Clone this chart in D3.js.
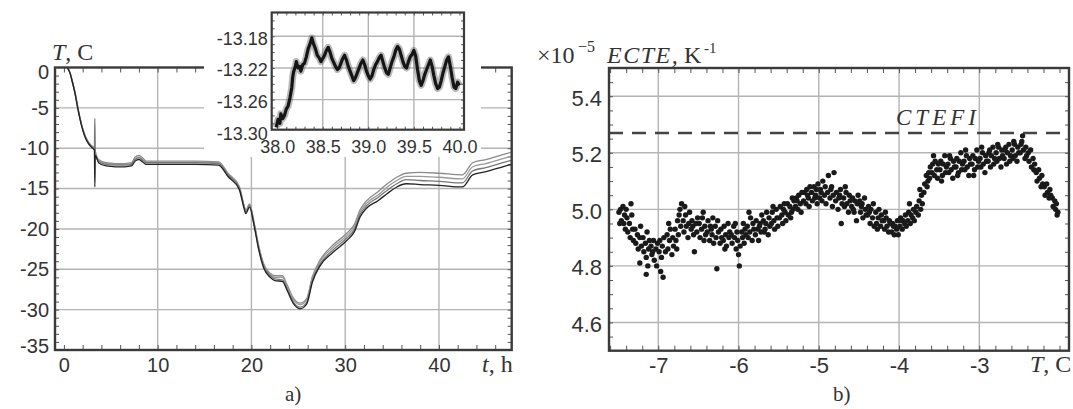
<!DOCTYPE html>
<html><head><meta charset="utf-8">
<script src="https://cdn.jsdelivr.net/npm/d3@7"></script>
<style>body{margin:0;background:#fff}svg{display:block}</style>
</head><body>
<svg id="chart" width="1073" height="409"></svg>
<script>
// ---------- DATA ----------
// Panel a: temperature histories
const timeH = [0.36,0.65,0.9,1.18,1.5,1.9,2.25,2.6,2.95,3.25,3.3,3.35,3.7,4.5,5.5,6.5,7.2,7.6,8.0,8.4,8.8,10,12,14,16.5,17.5,18.7,19.2,19.4,19.8,20.3,20.8,21.3,22.0,22.5,23.3,23.8,24.5,25.2,25.9,26.5,27.3,28.7,30.2,31.0,31.6,32.3,33.5,34.5,35.5,36.5,38,40,42.5,43.6,45,46.8,47.7];
const tempS0 = [0,-0.7,-1.8,-3.2,-5.2,-7.3,-8.6,-9.4,-9.9,-10.2,-14.8,-10.9,-11.8,-12.2,-12.3,-12.3,-12.2,-11.6,-11.4,-11.7,-12.0,-12.0,-12.0,-12.0,-12.1,-13.5,-15.1,-17.4,-18.1,-17.3,-19.7,-22.7,-24.8,-26.0,-26.4,-26.5,-27.6,-29.3,-29.9,-29.3,-26.6,-24.6,-22.9,-21.4,-20.3,-18.5,-17.4,-16.5,-15.6,-14.8,-14.4,-14.5,-14.6,-14.8,-13.3,-12.9,-12.3,-12.0];
const tempS1 = [0,-0.7,-1.8,-3.1,-5.1,-7.2,-8.5,-9.3,-9.8,-10.1,-6.3,-10.7,-11.6,-12.0,-12.1,-12.1,-12.0,-11.4,-11.2,-11.5,-11.8,-11.8,-11.8,-11.8,-11.9,-13.3,-14.9,-17.2,-17.9,-17.1,-19.5,-22.5,-24.6,-25.8,-26.2,-26.3,-27.4,-29.1,-29.7,-29.1,-26.4,-24.4,-22.6,-21.1,-20.0,-18.2,-17.1,-16.1,-15.2,-14.4,-13.9,-14.0,-14.1,-14.3,-12.8,-12.4,-11.8,-11.5];
const tempS2 = [0,-0.6,-1.7,-3.1,-5.1,-7.2,-8.5,-9.3,-9.8,-10.1,-10.1,-10.5,-11.5,-11.9,-12.0,-12.0,-11.9,-11.3,-11.1,-11.4,-11.7,-11.7,-11.7,-11.7,-11.8,-13.2,-14.8,-17.1,-17.8,-17.0,-19.4,-22.3,-24.4,-25.6,-26.0,-26.0,-27.1,-28.8,-29.4,-28.8,-26.1,-24.1,-22.3,-20.8,-19.7,-17.9,-16.8,-15.8,-14.8,-14.0,-13.5,-13.5,-13.6,-13.8,-12.3,-11.9,-11.3,-11.0];
const tempS3 = [0,-0.6,-1.7,-3.0,-5.0,-7.1,-8.4,-9.2,-9.7,-10.0,-10.1,-10.4,-11.4,-11.8,-11.9,-11.9,-11.8,-11.1,-10.9,-11.2,-11.6,-11.6,-11.6,-11.6,-11.7,-13.1,-14.7,-17.0,-17.7,-16.9,-19.3,-22.2,-24.3,-25.5,-25.8,-25.8,-26.9,-28.6,-29.2,-28.6,-25.9,-23.9,-22.0,-20.5,-19.4,-17.6,-16.5,-15.4,-14.4,-13.6,-13.1,-13.0,-13.1,-13.3,-11.8,-11.4,-10.8,-10.5];
const hourTicks = [0,10,20,30,40];
const hourGrid = [10,20,30,40];
const tempTicks = [0,-5,-10,-15,-20,-25,-30,-35];
const tempGrid = [-5,-10,-15,-20,-25,-30];

// Inset (zoom 38-40 h)
const insetTime = [37.99,38.01,38.03,38.04,38.06,38.08,38.10,38.12,38.14,38.16,38.17,38.18,38.20,38.21,38.23,38.25,38.26,38.28,38.30,38.32,38.34,38.36,38.38,38.40,38.42,38.44,38.46,38.48,38.50,38.52,38.54,38.56,38.58,38.60,38.62,38.64,38.66,38.68,38.70,38.72,38.74,38.76,38.78,38.80,38.82,38.84,38.86,38.88,38.90,38.92,38.94,38.96,38.98,39.00,39.02,39.04,39.06,39.08,39.10,39.12,39.14,39.16,39.18,39.20,39.22,39.24,39.26,39.28,39.30,39.32,39.34,39.36,39.38,39.40,39.42,39.44,39.46,39.48,39.50,39.52,39.54,39.56,39.58,39.60,39.62,39.64,39.66,39.68,39.70,39.72,39.74,39.76,39.78,39.80,39.82,39.84,39.86,39.88,39.90,39.92,39.94,39.96,39.98,40.00];
const insetTemp = [-13.295,-13.285,-13.290,-13.278,-13.284,-13.280,-13.272,-13.268,-13.258,-13.245,-13.232,-13.225,-13.218,-13.212,-13.220,-13.218,-13.224,-13.216,-13.214,-13.206,-13.196,-13.190,-13.182,-13.190,-13.196,-13.204,-13.207,-13.212,-13.208,-13.204,-13.198,-13.194,-13.200,-13.208,-13.213,-13.218,-13.222,-13.220,-13.214,-13.208,-13.204,-13.210,-13.218,-13.224,-13.230,-13.236,-13.232,-13.226,-13.220,-13.214,-13.210,-13.216,-13.224,-13.230,-13.234,-13.230,-13.222,-13.216,-13.212,-13.207,-13.204,-13.212,-13.220,-13.226,-13.228,-13.220,-13.212,-13.206,-13.198,-13.193,-13.196,-13.204,-13.212,-13.218,-13.220,-13.212,-13.206,-13.203,-13.198,-13.205,-13.222,-13.236,-13.242,-13.236,-13.228,-13.222,-13.216,-13.210,-13.218,-13.230,-13.240,-13.246,-13.244,-13.236,-13.226,-13.218,-13.210,-13.206,-13.218,-13.232,-13.244,-13.246,-13.238,-13.242];
const insetXTicks = [38.0,38.5,39.0,39.5,40.0];
const insetXGrid = [38.5,39.0,39.5];
const insetYTicks = [-13.18,-13.22,-13.26,-13.30];
const insetYGrid = [-13.18,-13.22,-13.26];

// Panel b: ECTE vs temperature  [T, ECTE x1e-5]
const ectePoints = [
[-7.49,4.99],[-7.47,5.00],[-7.46,4.96],[-7.44,5.01],[-7.43,4.95],[-7.42,4.98],[-7.41,4.93],[-7.48,4.95],[-7.40,5.00],
[-7.39,4.97],[-7.38,4.92],[-7.36,4.95],[-7.35,4.90],[-7.33,4.98],[-7.32,4.93],[-7.31,4.89],[-7.34,5.02],
[-7.29,4.93],[-7.28,4.88],[-7.26,4.91],[-7.25,4.86],[-7.23,4.90],[-7.22,4.94],[-7.21,4.87],[-7.23,4.81],
[-7.19,4.90],[-7.18,4.85],[-7.16,4.88],[-7.15,4.83],[-7.14,4.92],[-7.12,4.86],[-7.11,4.89],[-7.15,4.77],[-7.13,4.80],
[-7.09,4.87],[-7.08,4.84],[-7.06,4.89],[-7.05,4.82],[-7.03,4.86],[-7.02,4.80],[-7.01,4.88],[-7.07,4.85],
[-6.99,4.85],[-6.98,4.89],[-6.96,4.83],[-6.95,4.87],[-6.94,4.76],[-6.93,4.90],[-6.91,4.85],[-6.97,4.78],
[-6.89,4.91],[-6.88,4.86],[-6.86,4.89],[-6.85,4.93],[-6.83,4.84],[-6.82,4.90],[-6.81,4.87],[-6.87,4.95],
[-6.79,4.93],[-6.78,4.89],[-6.76,4.96],[-6.75,4.91],[-6.73,5.00],[-6.72,4.94],[-6.71,5.02],[-6.74,4.98],[-6.77,4.86],
[-6.69,4.96],[-6.68,4.92],[-6.66,4.98],[-6.65,4.94],[-6.63,4.90],[-6.62,4.95],[-6.61,4.99],[-6.67,5.01],
[-6.59,4.93],[-6.58,4.96],[-6.56,4.91],[-6.55,4.85],[-6.53,4.95],[-6.52,4.92],[-6.51,4.97],[-6.57,4.94],
[-6.49,4.95],[-6.48,4.90],[-6.46,4.93],[-6.45,4.97],[-6.43,4.89],[-6.42,4.94],[-6.41,4.91],[-6.44,4.99],
[-6.39,4.92],[-6.38,4.96],[-6.36,4.89],[-6.35,4.94],[-6.33,4.91],[-6.32,4.97],[-6.31,4.88],[-6.34,4.93],
[-6.29,4.94],[-6.28,4.90],[-6.27,4.79],[-6.26,4.96],[-6.25,4.92],[-6.23,4.88],[-6.22,4.93],[-6.21,4.90],
[-6.19,4.89],[-6.18,4.94],[-6.16,4.91],[-6.15,4.87],[-6.13,4.95],[-6.12,4.90],[-6.11,4.92],[-6.17,4.86],
[-6.09,4.91],[-6.08,4.88],[-6.06,4.94],[-6.05,4.90],[-6.03,4.86],[-6.02,4.92],[-6.01,4.89],[-6.00,4.84],[-5.99,4.80],[-6.04,4.95],
[-5.98,4.87],[-5.96,4.92],[-5.95,4.90],[-5.94,4.95],[-5.93,4.88],[-5.92,4.93],[-5.91,4.91],
[-5.89,4.94],[-5.88,4.90],[-5.86,4.92],[-5.85,4.97],[-5.83,4.89],[-5.82,4.95],[-5.81,4.93],[-5.87,4.99],
[-5.79,4.91],[-5.78,4.96],[-5.76,4.93],[-5.75,4.89],[-5.73,4.95],[-5.72,4.92],[-5.71,4.98],[-5.74,4.94],
[-5.69,4.96],[-5.68,4.92],[-5.66,4.95],[-5.65,4.99],[-5.63,4.91],[-5.62,4.97],[-5.61,4.94],[-5.67,4.93],
[-5.59,4.95],[-5.58,4.99],[-5.56,4.96],[-5.55,4.93],[-5.53,5.00],[-5.52,4.97],[-5.51,4.94],[-5.57,5.01],
[-5.49,4.97],[-5.48,5.01],[-5.46,4.98],[-5.45,4.95],[-5.43,5.02],[-5.42,4.99],[-5.41,4.96],[-5.44,5.00],
[-5.39,5.02],[-5.38,4.98],[-5.36,5.01],[-5.35,4.97],[-5.33,5.04],[-5.32,5.00],[-5.31,5.03],[-5.34,4.99],
[-5.29,5.01],[-5.28,5.04],[-5.26,5.00],[-5.25,5.05],[-5.23,5.02],[-5.22,4.99],[-5.21,5.06],[-5.27,5.03],
[-5.19,5.03],[-5.18,5.06],[-5.16,5.02],[-5.15,5.07],[-5.13,5.04],[-5.12,5.01],[-5.11,5.08],[-5.14,5.05],
[-5.09,5.06],[-5.08,5.03],[-5.06,5.08],[-5.05,5.04],[-5.03,5.07],[-5.02,5.02],[-5.01,5.09],[-5.04,5.05],
[-4.99,5.04],[-4.98,5.07],[-4.96,5.03],[-4.95,5.10],[-4.93,5.05],[-4.92,5.08],[-4.91,5.02],[-4.97,5.06],
[-4.89,5.06],[-4.88,5.12],[-4.86,5.04],[-4.85,5.07],[-4.83,5.01],[-4.82,5.05],[-4.81,5.13],[-4.84,5.08],
[-4.79,5.03],[-4.78,5.06],[-4.76,5.00],[-4.75,5.04],[-4.73,5.07],[-4.72,4.95],[-4.71,5.02],[-4.74,5.05],
[-4.69,5.04],[-4.68,5.01],[-4.66,5.06],[-4.65,5.02],[-4.63,4.99],[-4.62,5.05],[-4.61,5.03],[-4.67,5.08],
[-4.59,5.01],[-4.58,5.04],[-4.56,4.99],[-4.55,5.03],[-4.53,4.96],[-4.52,5.02],[-4.51,5.05],[-4.57,5.00],
[-4.49,5.03],[-4.48,4.99],[-4.46,5.02],[-4.45,4.97],[-4.43,5.04],[-4.42,5.00],[-4.41,4.98],[-4.47,5.01],
[-4.39,4.98],[-4.38,5.01],[-4.36,4.95],[-4.35,5.00],[-4.33,4.97],[-4.32,5.02],[-4.31,4.94],[-4.37,4.99],
[-4.29,4.99],[-4.28,4.95],[-4.26,4.97],[-4.25,5.00],[-4.23,4.94],[-4.22,4.98],[-4.21,4.96],[-4.27,4.93],
[-4.19,4.96],[-4.18,4.93],[-4.16,4.97],[-4.15,4.94],[-4.13,4.92],[-4.12,4.96],[-4.11,4.95],[-4.17,4.99],
[-4.09,4.92],[-4.08,4.95],[-4.06,4.91],[-4.05,4.94],[-4.03,4.93],[-4.02,4.96],[-4.01,4.91],[-4.07,4.94],
[-3.99,4.94],[-3.98,4.97],[-3.96,4.93],[-3.95,4.96],[-3.93,4.95],[-3.92,4.98],[-3.91,4.94],[-3.97,4.96],
[-3.89,4.96],[-3.88,4.99],[-3.86,4.95],[-3.85,4.98],[-3.83,4.97],[-3.82,5.00],[-3.81,4.96],[-3.87,5.02],
[-3.79,4.99],[-3.78,5.01],[-3.76,4.98],[-3.75,5.03],[-3.73,5.00],[-3.72,5.05],[-3.71,5.02],[-3.74,5.07],
[-3.69,5.06],[-3.68,5.09],[-3.66,5.12],[-3.65,5.08],[-3.63,5.13],[-3.62,5.11],[-3.61,5.15],[-3.64,5.10],
[-3.59,5.13],[-3.58,5.16],[-3.56,5.12],[-3.55,5.17],[-3.53,5.14],[-3.52,5.11],[-3.51,5.16],[-3.57,5.19],
[-3.49,5.14],[-3.48,5.17],[-3.46,5.12],[-3.45,5.16],[-3.43,5.19],[-3.42,5.13],[-3.41,5.15],[-3.47,5.10],
[-3.39,5.16],[-3.38,5.13],[-3.36,5.18],[-3.35,5.14],[-3.33,5.11],[-3.32,5.17],[-3.31,5.15],[-3.37,5.19],
[-3.29,5.15],[-3.28,5.18],[-3.26,5.13],[-3.25,5.17],[-3.23,5.20],[-3.22,5.14],[-3.21,5.16],[-3.27,5.12],
[-3.19,5.17],[-3.18,5.14],[-3.16,5.19],[-3.15,5.15],[-3.13,5.12],[-3.12,5.18],[-3.11,5.16],[-3.17,5.21],
[-3.09,5.16],[-3.08,5.19],[-3.06,5.14],[-3.05,5.18],[-3.03,5.21],[-3.02,5.15],[-3.01,5.17],[-3.07,5.12],
[-2.99,5.18],[-2.98,5.15],[-2.96,5.20],[-2.95,5.16],[-2.93,5.13],[-2.92,5.19],[-2.91,5.17],[-2.97,5.22],
[-2.89,5.17],[-2.88,5.20],[-2.86,5.15],[-2.85,5.19],[-2.83,5.22],[-2.82,5.16],[-2.81,5.18],[-2.87,5.21],
[-2.79,5.20],[-2.78,5.17],[-2.76,5.22],[-2.75,5.18],[-2.73,5.15],[-2.72,5.21],[-2.71,5.19],[-2.77,5.23],
[-2.69,5.18],[-2.68,5.21],[-2.66,5.16],[-2.65,5.20],[-2.63,5.23],[-2.62,5.17],[-2.61,5.19],[-2.67,5.22],
[-2.59,5.21],[-2.58,5.18],[-2.56,5.23],[-2.55,5.19],[-2.53,5.17],[-2.52,5.22],[-2.51,5.20],[-2.57,5.24],
[-2.49,5.20],[-2.48,5.23],[-2.46,5.26],[-2.45,5.21],[-2.43,5.18],[-2.42,5.22],[-2.41,5.19],[-2.47,5.24],
[-2.39,5.20],[-2.38,5.17],[-2.36,5.21],[-2.35,5.15],[-2.33,5.18],[-2.32,5.14],[-2.31,5.16],
[-2.29,5.13],[-2.28,5.10],[-2.26,5.14],[-2.25,5.11],[-2.23,5.08],[-2.22,5.12],[-2.21,5.09],
[-2.19,5.08],[-2.18,5.05],[-2.16,5.09],[-2.15,5.06],[-2.13,5.04],[-2.12,5.07],[-2.11,5.05],
[-2.09,5.04],[-2.08,5.01],[-2.06,5.03],[-2.05,5.00],[-2.04,5.02],[-2.03,4.98],[-2.02,4.99]
];
const cteFi = 5.27;
const tempTicksB = [-7,-6,-5,-4,-3];
const ecteTicks = [4.6,4.8,5.0,5.2,5.4];

// ---------- DRAW ----------
const svg = d3.select('#chart');
const sans = "'Liberation Sans', Arial, sans-serif";
const serif = "'Liberation Serif', 'Times New Roman', serif";
const ink = '#333', gridC = '#b4b4b4', frameC = '#3a3a3a';

function styleText(sel, size) {
  sel.select('.domain').remove();
  sel.selectAll('text').attr('font-family', sans).attr('font-size', size).attr('fill', ink);
}
function minorTicks(g, axis, tr) {
  g.append('g').attr('transform', tr).call(axis.tickFormat(''))
    .call(s => { s.select('.domain').remove(); s.selectAll('line').attr('stroke', '#555').attr('stroke-width', 1); });
}
function grid(g, xs, ys, vx, vy) {
  g.append('g').selectAll('line').data(vx).join('line')
    .attr('x1', d => xs(d)).attr('x2', d => xs(d)).attr('y1', ys.range()[0]).attr('y2', ys.range()[1])
    .attr('stroke', gridC).attr('stroke-width', 1.4);
  g.append('g').selectAll('line').data(vy).join('line')
    .attr('y1', d => ys(d)).attr('y2', d => ys(d)).attr('x1', xs.range()[0]).attr('x2', xs.range()[1])
    .attr('stroke', gridC).attr('stroke-width', 1.4);
}
function frame(g, xs, ys, w) {
  g.append('rect').attr('x', xs.range()[0]).attr('y', ys.range()[1])
    .attr('width', xs.range()[1] - xs.range()[0]).attr('height', ys.range()[0] - ys.range()[1])
    .attr('fill', 'none').attr('stroke', frameC).attr('stroke-width', w);
}

// ===== Panel a =====
const xA = d3.scaleLinear().domain([-0.95, 47.76]).range([55, 511.7]);
const yA = d3.scaleLinear().domain([-35, 0]).range([350, 67.5]);
const gA = svg.append('g');
grid(gA, xA, yA, hourGrid, tempGrid);
minorTicks(gA, d3.axisBottom(xA).tickValues(d3.range(0, 48, 2)).tickSize(-5), `translate(0,${yA.range()[0]})`);
minorTicks(gA, d3.axisTop(xA).tickValues(d3.range(0, 48, 2)).tickSize(-5), `translate(0,${yA.range()[1]})`);
minorTicks(gA, d3.axisLeft(yA).tickValues(d3.range(-35, 0, 1)).tickSize(-4), `translate(${xA.range()[0]},0)`);
minorTicks(gA, d3.axisRight(yA).tickValues(d3.range(-35, 0, 1)).tickSize(-4), `translate(${xA.range()[1]},0)`);

const lineA = d3.line().x((d, i) => xA(timeH[i])).y(d => yA(d)).curve(d3.curveMonotoneX);
const seriesA = [
  {v: tempS3, c: '#8a8a8a'}, {v: tempS2, c: '#9a9a9a'}, {v: tempS1, c: '#777'}, {v: tempS0, c: '#222'}
];
gA.append('g').selectAll('path').data(seriesA).join('path')
  .attr('d', d => lineA(d.v)).attr('fill', 'none').attr('stroke', d => d.c).attr('stroke-width', 1.3)
  .attr('stroke-linejoin', 'round');
frame(gA, xA, yA, 2.4);

gA.append('g').attr('transform', `translate(0,${yA.range()[0]})`)
  .call(d3.axisBottom(xA).tickValues(hourTicks).tickSize(0).tickPadding(8).tickFormat(d => String(d)))
  .call(s => styleText(s, 20));
gA.append('g').attr('transform', `translate(${xA.range()[0]},0)`)
  .call(d3.axisLeft(yA).tickValues(tempTicks).tickSize(0).tickPadding(6).tickFormat(d => String(d)))
  .call(s => styleText(s, 20))
  .call(s => s.selectAll('text').attr('transform', d => d === 0 ? 'translate(0,5)' : d === -35 ? 'translate(0,-4)' : null));

// Inset
const xI = d3.scaleLinear().domain([37.94, 40.05]).range([271.7, 464]);
const yI = d3.scaleLinear().domain([-13.298, -13.150]).range([129.7, 12.5]);
const gI = svg.append('g');
gI.append('rect').attr('x', 204).attr('y', 0).attr('width', 277).attr('height', 157).attr('fill', '#fff');
gI.append('rect').attr('x', xI.range()[0]).attr('y', yI.range()[1]).attr('width', xI.range()[1] - xI.range()[0])
  .attr('height', yI.range()[0] - yI.range()[1]).attr('fill', '#fff');
grid(gI, xI, yI, insetXGrid, insetYGrid);
minorTicks(gI, d3.axisTop(xI).tickValues(d3.range(38, 40.05, 0.1)).tickSize(-3), `translate(0,${yI.range()[1]})`);
minorTicks(gI, d3.axisBottom(xI).tickValues(d3.range(38, 40.05, 0.1)).tickSize(-3), `translate(0,${yI.range()[0]})`);
minorTicks(gI, d3.axisLeft(yI).tickValues(d3.range(-13.29, -13.15, 0.01)).tickSize(-3), `translate(${xI.range()[0]},0)`);
minorTicks(gI, d3.axisRight(yI).tickValues(d3.range(-13.29, -13.15, 0.01)).tickSize(-3), `translate(${xI.range()[1]},0)`);
const lineI = d3.line().x((d, i) => xI(insetTime[i])).y(d => yI(d));
gI.append('path').attr('d', lineI(insetTemp)).attr('fill', 'none').attr('stroke', '#666')
  .attr('stroke-width', 7).attr('stroke-opacity', 0.45).attr('stroke-linejoin', 'round');
gI.append('path').attr('d', lineI(insetTemp)).attr('fill', 'none').attr('stroke', '#151515')
  .attr('stroke-width', 3.2).attr('stroke-linejoin', 'round');
frame(gI, xI, yI, 2.2);
gI.append('g').attr('transform', `translate(0,${yI.range()[0]})`)
  .call(d3.axisBottom(xI).tickValues(insetXTicks).tickSize(0).tickPadding(11).tickFormat(d => d.toFixed(1)))
  .call(s => styleText(s, 18));
gI.append('g').attr('transform', `translate(${xI.range()[0]},0)`)
  .call(d3.axisLeft(yI).tickValues(insetYTicks).tickSize(0).tickPadding(4).tickFormat(d => d.toFixed(2)))
  .call(s => styleText(s, 18))
  .call(s => s.selectAll('text').attr('transform', 'translate(0,2)'));

// Titles panel a
svg.append('text').attr('x', 52).attr('y', 60).attr('font-family', serif).attr('font-size', 24).attr('fill', ink)
  .call(t => { t.append('tspan').attr('font-style', 'italic').text('T'); t.append('tspan').text(', C'); });
svg.append('text').attr('x', 482).attr('y', 372).attr('font-family', serif).attr('font-size', 24).attr('fill', ink)
  .call(t => { t.append('tspan').attr('font-style', 'italic').text('t'); t.append('tspan').text(', h'); });
svg.append('text').attr('x', 285).attr('y', 401).attr('font-family', serif).attr('font-size', 21).attr('fill', ink).text('a)');

// ===== Panel b =====
const xB = d3.scaleLinear().domain([-7.614, -1.882]).range([609, 1069]);
const yB = d3.scaleLinear().domain([4.5, 5.5]).range([350.7, 68]);
const gB = svg.append('g');
grid(gB, xB, yB, tempTicksB, ecteTicks);
minorTicks(gB, d3.axisBottom(xB).tickValues(d3.range(-7.6, -1.9, 0.2)).tickSize(-5), `translate(0,${yB.range()[0]})`);
minorTicks(gB, d3.axisTop(xB).tickValues(d3.range(-7.6, -1.9, 0.2)).tickSize(-5), `translate(0,${yB.range()[1]})`);
minorTicks(gB, d3.axisLeft(yB).tickValues(d3.range(4.55, 5.5, 0.05)).tickSize(-4), `translate(${xB.range()[0]},0)`);
minorTicks(gB, d3.axisRight(yB).tickValues(d3.range(4.55, 5.5, 0.05)).tickSize(-4), `translate(${xB.range()[1]},0)`);

gB.append('line').attr('x1', xB.range()[0]).attr('x2', xB.range()[1]).attr('y1', yB(cteFi)).attr('y2', yB(cteFi))
  .attr('stroke', '#444').attr('stroke-width', 2.6).attr('stroke-dasharray', '14,9');
gB.append('g').selectAll('circle').data(ectePoints).join('circle')
  .attr('cx', d => xB(d[0])).attr('cy', d => yB(d[1])).attr('r', 2.7).attr('fill', '#1a1a1a');
frame(gB, xB, yB, 2.4);
gB.append('g').attr('transform', `translate(0,${yB.range()[0]})`)
  .call(d3.axisBottom(xB).tickValues(tempTicksB).tickSize(0).tickPadding(7).tickFormat(d => String(d)))
  .call(s => styleText(s, 22));
gB.append('g').attr('transform', `translate(${xB.range()[0]},0)`)
  .call(d3.axisLeft(yB).tickValues(ecteTicks).tickSize(0).tickPadding(7).tickFormat(d => d.toFixed(1)))
  .call(s => styleText(s, 22))
  .call(s => s.selectAll('text').attr('transform', 'translate(0,2)'));

svg.append('text').attr('x', 896).attr('y', 125).attr('font-family', serif).attr('font-size', 23)
  .attr('font-style', 'italic').attr('letter-spacing', 4).attr('fill', ink).text('CTEFI');
svg.append('text').attr('y', 63).attr('font-family', serif).attr('font-size', 24).attr('fill', ink)
  .call(t => {
    t.append('tspan').attr('x', 537).text('×10');
    t.append('tspan').attr('x', 578).attr('dy', -11).attr('font-size', 16).text('−5');
    t.append('tspan').attr('x', 607).attr('dy', 11).attr('font-style', 'italic').attr('letter-spacing', 1.5).text('ECTE,');
    t.append('tspan').attr('x', 684).text('K');
    t.append('tspan').attr('x', 704).attr('dy', -10).attr('font-size', 15).text('-1');
  });
svg.append('text').attr('x', 1030).attr('y', 372).attr('font-family', serif).attr('font-size', 24).attr('fill', ink)
  .call(t => { t.append('tspan').attr('font-style', 'italic').text('T'); t.append('tspan').text(', C'); });
svg.append('text').attr('x', 833).attr('y', 401).attr('font-family', serif).attr('font-size', 21).attr('fill', ink).text('b)');
</script>
</body></html>
